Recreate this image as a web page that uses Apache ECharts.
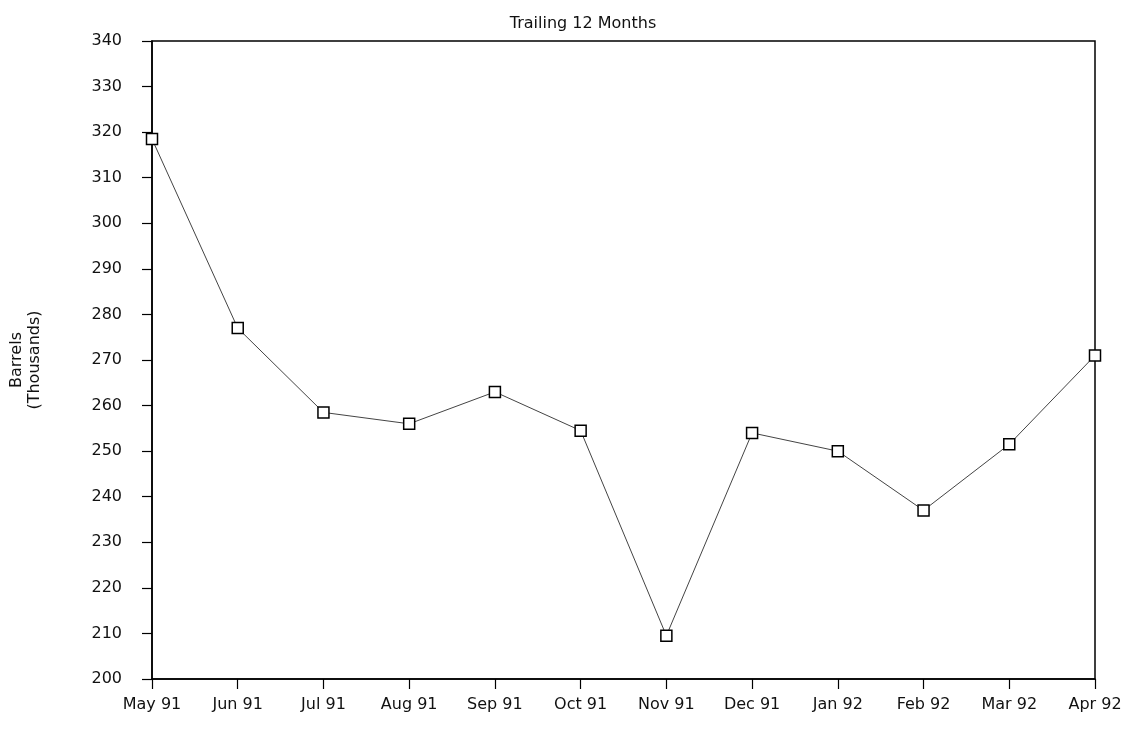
<!DOCTYPE html>
<html>
<head>
<meta charset="utf-8">
<title>Trailing 12 Months</title>
<script src="https://cdn.jsdelivr.net/npm/echarts@6/dist/echarts.min.js"></script>
<style>
    html, body { margin: 0; padding: 0; background: #fff; }
    #chart { width: 1139px; height: 729px; }
</style>
</head>
<body>
<div id="chart"></div>
<script>
// months along the bottom
var months = ['May 91', 'Jun 91', 'Jul 91', 'Aug 91', 'Sep 91', 'Oct 91',
    'Nov 91', 'Dec 91', 'Jan 92', 'Feb 92', 'Mar 92', 'Apr 92'];
// barrels, thousands
var barrels = [318.5, 277, 258.5, 256, 263, 254.5, 209.5, 254, 250, 237, 251.5, 271];
var yMin = 200;
var yMax = 340;
var yStep = 10;

var chart = echarts.init(document.getElementById('chart'));
var txt = '#111';
var font = 'DejaVu Sans';

chart.setOption({
    backgroundColor: '#fff',
    title: {
        text: 'Trailing 12 Months',
        left: 578,
        top: 11,
        textAlign: 'center',
        textStyle: { fontFamily: font, fontSize: 16, fontWeight: 'normal', color: txt }
    },
    grid: {
        left: 150,
        right: 44,
        top: 41,
        bottom: 50,
        show: true,
        borderColor: '#000',
        borderWidth: 1.5
    },
    xAxis: {
        type: 'category',
        data: months,
        boundaryGap: false,
        axisLine: { lineStyle: { color: '#000', width: 1.5 } },
        axisTick: { inside: false, length: 10, lineStyle: { color: '#000', width: 1.2 } },
        axisLabel: { margin: 18, fontFamily: font, fontSize: 16, color: txt, interval: 0 },
        splitLine: { show: false }
    },
    yAxis: {
        type: 'value',
        min: yMin,
        max: yMax,
        interval: yStep,
        name: 'Barrels\n(Thousands)',
        nameLocation: 'middle',
        nameGap: 108,
        nameRotate: 90,
        nameTextStyle: { fontFamily: font, fontSize: 16, color: txt, lineHeight: 18 },
        axisLine: { show: true, lineStyle: { color: '#000', width: 1.5 } },
        axisTick: { show: true, length: 10, lineStyle: { color: '#000', width: 1.2 } },
        axisLabel: { margin: 30, fontFamily: font, fontSize: 16, color: txt },
        splitLine: { show: false }
    },
    series: [
        {
            type: 'line',
            data: barrels,
            symbol: 'rect',
            symbolSize: 11,
            showAllSymbol: true,
            lineStyle: { color: '#444', width: 1 },
            itemStyle: { color: '#fff', borderColor: '#000', borderWidth: 1.5 },
            animation: false
        }
    ]
});
</script>
</body>
</html>
